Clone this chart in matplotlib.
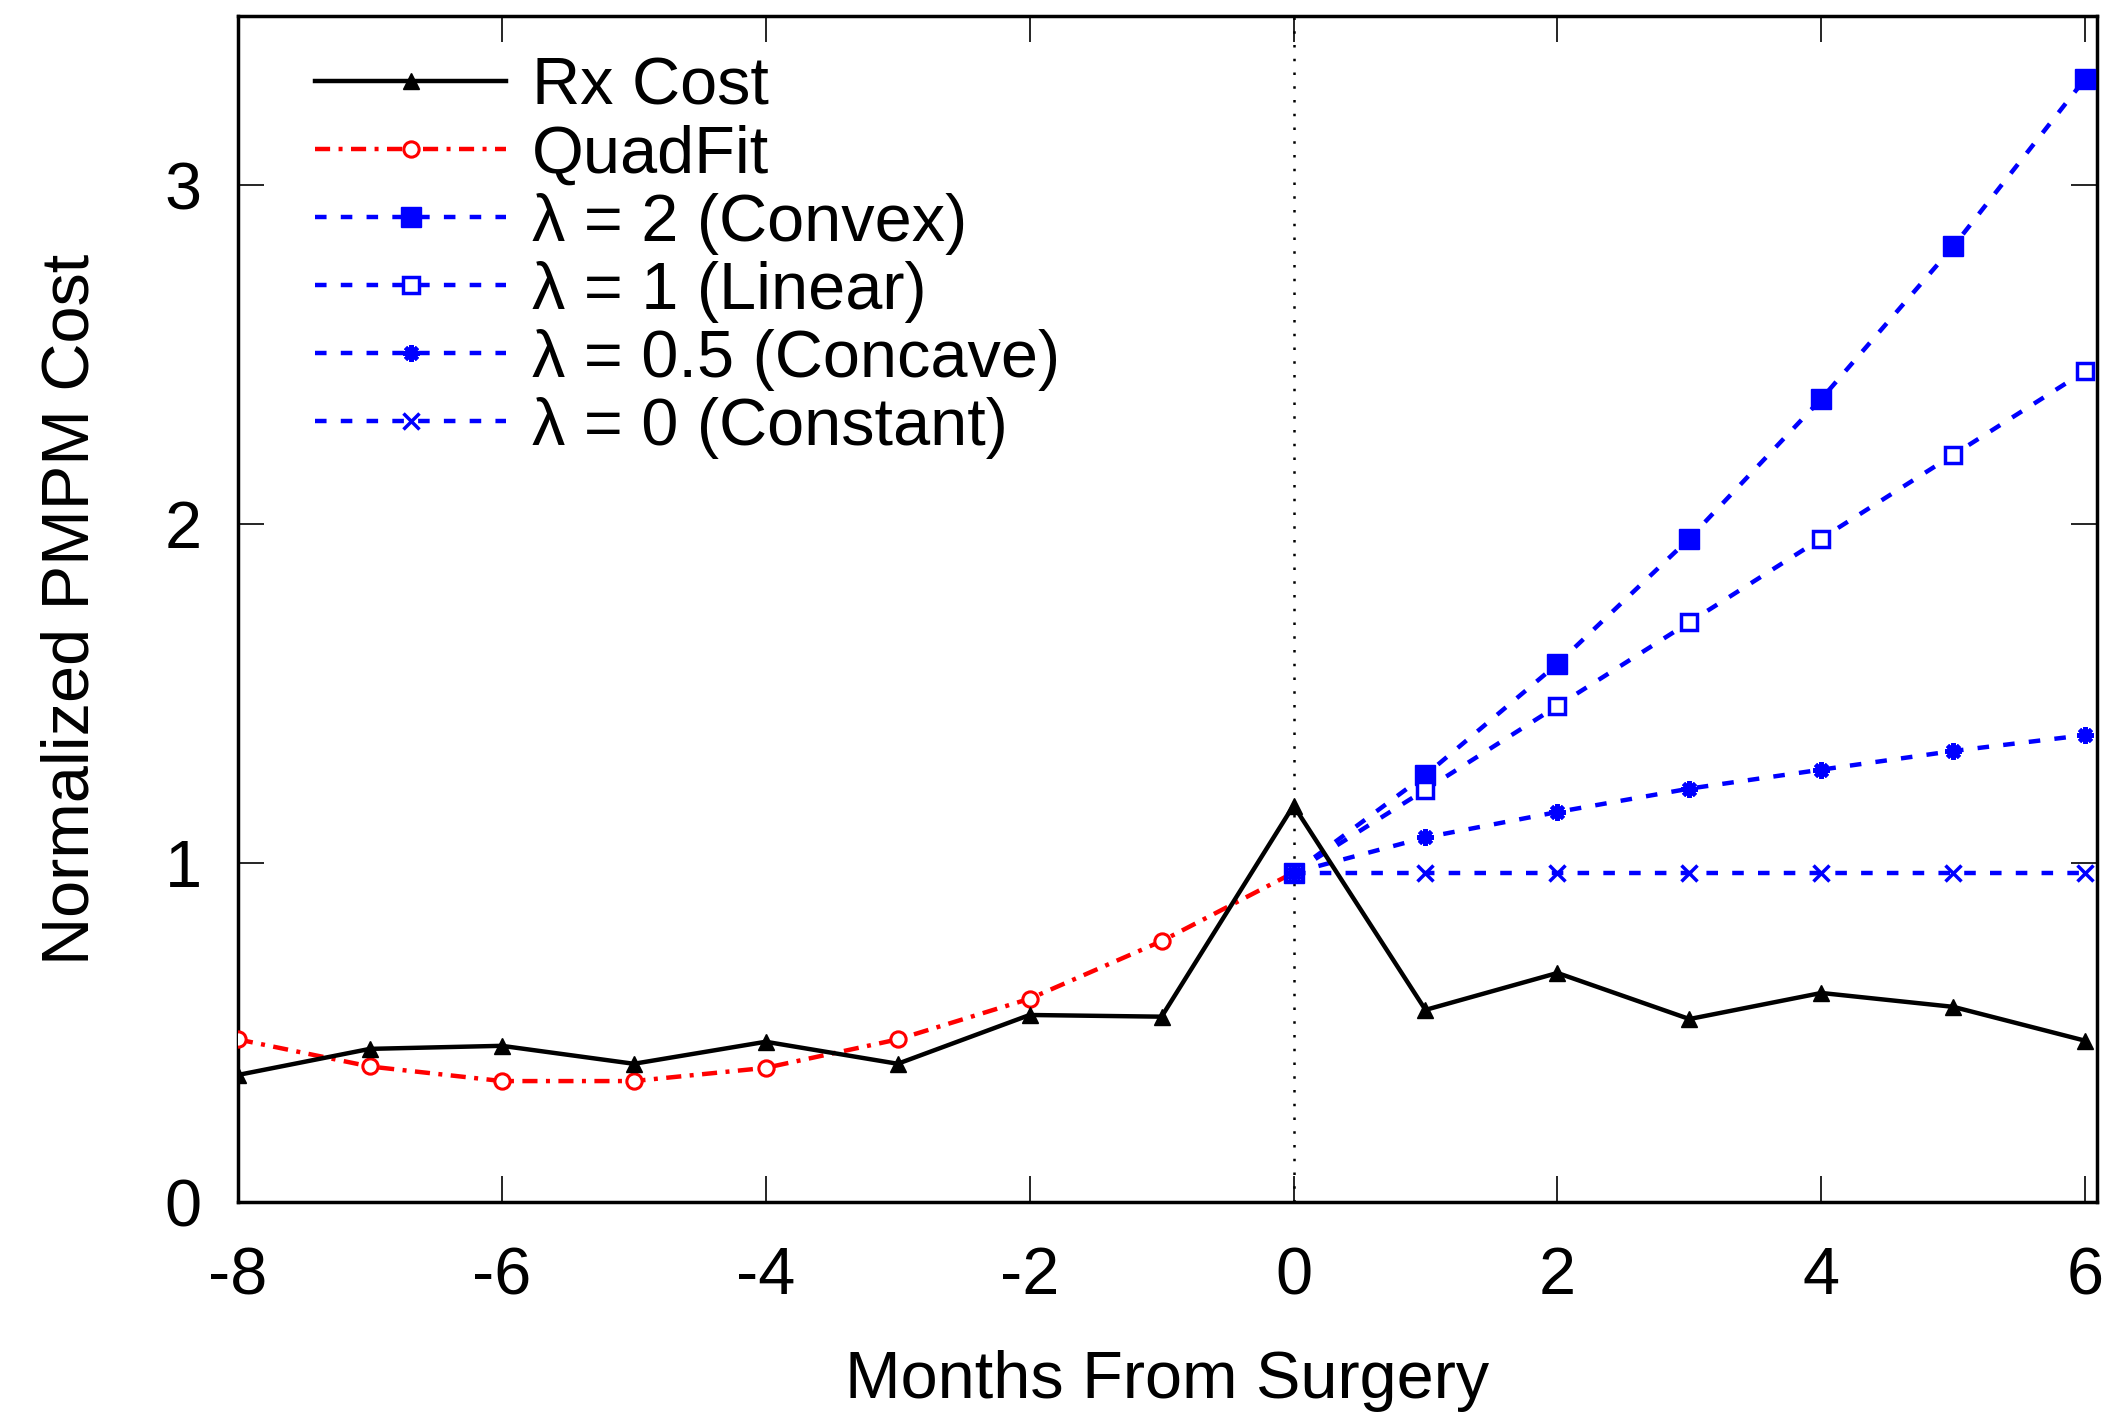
import matplotlib
matplotlib.use("Agg")
import matplotlib.pyplot as plt

plt.rcParams['font.family'] = ['Liberation Sans', 'DejaVu Sans']
plt.rcParams['axes.unicode_minus'] = False

# Monthly data relative to surgery
months_pre = [-8, -7, -6, -5, -4, -3, -2, -1, 0]
months_all = [-8, -7, -6, -5, -4, -3, -2, -1, 0, 1, 2, 3, 4, 5, 6]
months_post = [0, 1, 2, 3, 4, 5, 6]

rx_cost = [0.375, 0.452, 0.461, 0.408, 0.473, 0.408, 0.552, 0.547, 1.17,
           0.567, 0.676, 0.54, 0.617, 0.576, 0.476]
quad_fit = [0.48, 0.40, 0.357, 0.357, 0.396, 0.48, 0.60, 0.77, 0.972]

convex = [0.972, 1.26, 1.588, 1.958, 2.37, 2.82, 3.315]
linear = [0.972, 1.217, 1.464, 1.711, 1.958, 2.205, 2.452]
concave = [0.972, 1.076, 1.151, 1.22, 1.276, 1.331, 1.378]
constant = [0.972, 0.972, 0.972, 0.972, 0.972, 0.972, 0.972]

labels = ["Rx Cost", "QuadFit", "λ = 2 (Convex)", "λ = 1 (Linear)",
          "λ = 0.5 (Concave)", "λ = 0 (Constant)"]

xticks = [-8, -6, -4, -2, 0, 2, 4, 6]
yticks = [0, 1, 2, 3]

FS = 48
LW = 3.2
BLUE = "#0000ff"
RED = "#ff0000"
blue_dash = (2.6, 3.2)

fig = plt.figure(figsize=(21.17, 14.15), dpi=100)
ax = fig.add_axes([0.1124, 0.1505, 0.8782, 0.8382])

ax.axvline(0, color="black", lw=1.8, dashes=(1, 4.5))

ax.plot(months_all, rx_cost, color="black", lw=LW, marker="^", ms=12,
        label=labels[0], zorder=5)
ax.plot(months_pre, quad_fit, color=RED, lw=LW, dashes=(3.4, 1.9, 0.9, 1.9),
        marker="o", ms=11, mfc="white", mec=RED, mew=2.2, label=labels[1], zorder=4)
ax.plot(months_post, convex, color=BLUE, lw=LW, dashes=blue_dash,
        marker="s", ms=14, mec=BLUE, mfc=BLUE, label=labels[2], zorder=4)
ax.plot(months_post, linear, color=BLUE, lw=LW, dashes=blue_dash,
        marker="s", ms=12, mfc="white", mec=BLUE, mew=2.5, label=labels[3], zorder=4)
ax.plot(months_post, concave, color=BLUE, lw=LW, dashes=blue_dash,
        marker=(8, 2, 0), ms=12, mec=BLUE, mew=3, label=labels[4], zorder=4)
ax.plot(months_post, constant, color=BLUE, lw=LW, dashes=blue_dash,
        marker="x", ms=11, mec=BLUE, mew=2.5, label=labels[5], zorder=3)

ax.set_xlim(-8, 6.09)
ax.set_ylim(0, 3.5)
ax.set_xticks(xticks)
ax.set_yticks(yticks)
ax.tick_params(direction="in", length=19, width=1.2, top=True, right=True,
               labelsize=FS)
ax.tick_params(axis="x", pad=32)
ax.tick_params(axis="y", pad=26)
for s in ax.spines.values():
    s.set_linewidth(2.5)

ax.set_xlabel("Months From Surgery", fontsize=FS, labelpad=30)
ax.set_ylabel("Normalized PMPM Cost", fontsize=FS, labelpad=45)

ax.legend(loc="upper left", bbox_to_anchor=(0.0165, 1.005), frameon=False,
          fontsize=FS, handlelength=2.86, handletextpad=0.39, labelspacing=0.09,
          borderaxespad=0.3)

fig.savefig("out.png", dpi=100)
